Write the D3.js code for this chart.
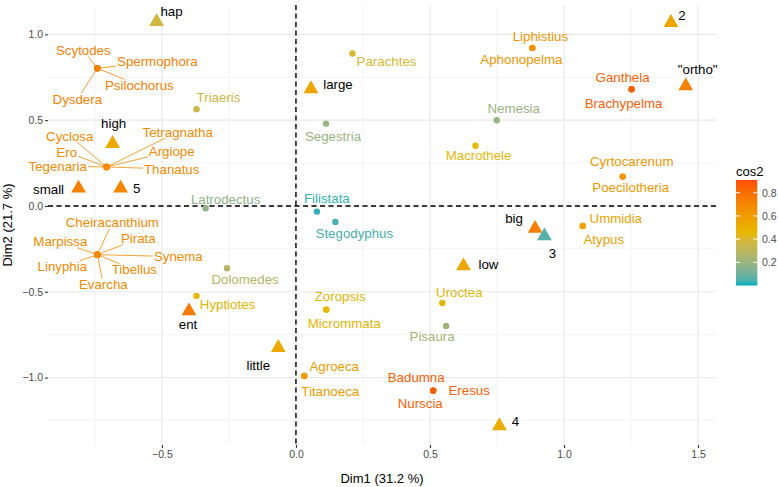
<!DOCTYPE html>
<html>
<head>
<meta charset="utf-8">
<script src="https://cdn.jsdelivr.net/npm/d3@7"></script>
<style>
  body { margin: 0; background: #fff; }
  svg { display: block; font-family: "Liberation Sans", Arial, Helvetica, sans-serif; }
</style>
</head>
<body>
<svg id="chart" width="778" height="487"></svg>
<script>
// ---- Data: variables (genera) ----
const varNames = ["Scytodes","Spermophora","Psilochorus","Dysdera",
  "Cyclosa","Tetragnatha","Ero","Argiope","Tegenaria","Thanatus",
  "Cheiracanthium","Pirata","Marpissa","Synema","Linyphia","Tibellus","Evarcha",
  "Triaeris","Latrodectus","Dolomedes","Hyptiotes","Parachtes","Segestria","Macrothele",
  "Liphistius","Aphonopelma","Ganthela","Brachypelma","Nemesia","Cyrtocarenum","Poecilotheria",
  "Filistata","Stegodyphus","Zoropsis","Micrommata","Uroctea","Pisaura","Ummidia","Atypus",
  "Agroeca","Titanoeca","Badumna","Eresus","Nurscia"];
const varDim1 = [-0.741,-0.741,-0.741,-0.741,
  -0.706,-0.706,-0.706,-0.706,-0.706,-0.706,
  -0.741,-0.741,-0.741,-0.741,-0.741,-0.741,-0.741,
  -0.371,-0.337,-0.257,-0.371,0.211,0.112,0.670,
  0.882,0.882,1.252,1.252,0.749,1.219,1.219,
  0.078,0.147,0.113,0.113,0.546,0.560,1.070,1.070,
  0.031,0.031,0.512,0.512,0.512];
const varDim2 = [0.802,0.802,0.802,0.802,
  0.227,0.227,0.227,0.227,0.227,0.227,
  -0.284,-0.284,-0.284,-0.284,-0.284,-0.284,-0.284,
  0.564,-0.013,-0.363,-0.524,0.888,0.480,0.351,
  0.921,0.921,0.680,0.680,0.499,0.171,0.171,
  -0.033,-0.093,-0.604,-0.604,-0.565,-0.699,-0.117,-0.117,
  -0.991,-0.991,-1.076,-1.076,-1.076];
const varCos2 = [0.72,0.72,0.72,0.72,
  0.68,0.68,0.68,0.68,0.68,0.68,
  0.68,0.68,0.68,0.68,0.68,0.68,0.68,
  0.36,0.17,0.28,0.47,0.40,0.19,0.45,
  0.63,0.63,0.85,0.85,0.19,0.62,0.62,
  0.02,0.04,0.47,0.47,0.45,0.22,0.57,0.57,
  0.60,0.60,0.86,0.86,0.86];

// ---- Data: supplementary categories (triangles) ----
const catNames = ["hap","high","small","5","ent","large","little","low","big","3","2","\"ortho\"","4"];
const catDim1 = [-0.520,-0.684,-0.811,-0.654,-0.399,0.056,-0.066,0.625,0.892,0.927,1.399,1.454,0.759];
const catDim2 = [1.080,0.369,0.109,0.109,-0.606,0.688,-0.820,-0.344,-0.126,-0.169,1.074,0.705,-1.276];
const catCos2 = [0.37,0.53,0.72,0.70,0.75,0.55,0.53,0.55,0.73,0.06,0.55,0.72,0.52];

// ---- Axis ticks ----
const xTicks = [-0.5, 0.0, 0.5, 1.0, 1.5];
const yTicks = [-1.0, -0.5, 0.0, 0.5, 1.0];
const xMinor = [-0.75, -0.25, 0.25, 0.75, 1.25];
const yMinor = [-1.25, -0.75, -0.25, 0.25, 0.75];
const legendTicks = [0.2, 0.4, 0.6, 0.8];

// ---- Label layout (repel offsets in px and whether a leader segment is drawn) ----
const varLabelOffset = [[-14,-18],[60,-7],[42,17],[-20,31],
  [-37,-31],[71,-35],[-40,-15],[65,-16],[-49,-1],[65,2],
  [15,-32],[41,-16],[-37,-13],[81,2],[-35,12],[37,15],[6,30],
  [22,-12],[20,-9],[18,11],[31,8],[34,8],[7,13],[3,9.5],
  [8,-12],[-11,11],[-9,-12],[-8,14],[17,-12],[9,-15],[8,11],
  [10,-13],[19,11],[14,-13],[18,14],[17,-11],[-14,10],[33,-8],[21,13],
  [30,-10],[26,15],[-17,-13],[36,0],[-13,13]];
const varLabelSegment = varNames.map((n, i) => i < 17);
const catLabelOffset = [[15,-9],[1,-19],[-30,2],[16,1],[-1,14],[27,-4],[-20,19],[25,-1],[-21,-9],[8,18],[11,-6],[12,-16],[16,-4]];

const svg = d3.select("#chart");
const panel = {left: 48, right: 716, top: 5, bottom: 445};

const x = d3.scaleLinear().domain([-0.925, 1.567]).range([panel.left, panel.right]);
const y = d3.scaleLinear().domain([-1.393, 1.171]).range([panel.bottom, panel.top]);

const colorDomain = [0, 0.91];
const color = d3.scaleLinear()
  .domain([colorDomain[0], (colorDomain[0]+colorDomain[1])/2, colorDomain[1]])
  .range(["#00AFBB", "#E7B800", "#FC4E07"])
  .interpolate(d3.interpolateLab);

// grid
const g = svg.append("g");
g.selectAll(".xminor").data(xMinor).join("line")
  .attr("x1", d => x(d)).attr("x2", d => x(d)).attr("y1", panel.top).attr("y2", panel.bottom)
  .attr("stroke", "#ededed").attr("stroke-width", 0.6);
g.selectAll(".yminor").data(yMinor).join("line")
  .attr("y1", d => y(d)).attr("y2", d => y(d)).attr("x1", panel.left).attr("x2", panel.right)
  .attr("stroke", "#ededed").attr("stroke-width", 0.6);
g.selectAll(".xmajor").data(xTicks).join("line")
  .attr("x1", d => x(d)).attr("x2", d => x(d)).attr("y1", panel.top).attr("y2", panel.bottom)
  .attr("stroke", "#e8e8e8").attr("stroke-width", 1.1);
g.selectAll(".ymajor").data(yTicks).join("line")
  .attr("y1", d => y(d)).attr("y2", d => y(d)).attr("x1", panel.left).attr("x2", panel.right)
  .attr("stroke", "#e8e8e8").attr("stroke-width", 1.1);

// axes
const fmt = d3.format(".1f");
const yAxis = svg.append("g").attr("transform", `translate(${panel.left},0)`)
  .call(d3.axisLeft(y).tickValues(yTicks).tickFormat(fmt).tickSize(3).tickPadding(2));
const xAxis = svg.append("g").attr("transform", `translate(0,${panel.bottom})`)
  .call(d3.axisBottom(x).tickValues(xTicks).tickFormat(fmt).tickSize(3).tickPadding(3));
[xAxis, yAxis].forEach(a => {
  a.select(".domain").remove();
  a.selectAll(".tick line").attr("stroke", "#333").attr("stroke-width", 1.1);
  a.selectAll(".tick text").attr("fill", "#4d4d4d").attr("font-size", 10.5)
    .attr("font-family", "Liberation Sans, Arial, sans-serif");
});

// dashed zero lines
svg.append("line").attr("x1", x(0)).attr("x2", x(0)).attr("y1", panel.top).attr("y2", panel.bottom)
  .attr("stroke", "#000").attr("stroke-width", 1.4).attr("stroke-dasharray", "5,3.5");
svg.append("line").attr("y1", y(0)).attr("y2", y(0)).attr("x1", panel.left).attr("x2", panel.right)
  .attr("stroke", "#000").attr("stroke-width", 1.4).attr("stroke-dasharray", "5,3.5");

// axis titles
svg.append("text").attr("x", (panel.left+panel.right)/2).attr("y", 483)
  .attr("text-anchor", "middle").attr("font-size", 13).attr("fill", "#000").text("Dim1 (31.2 %)");
svg.append("text").attr("transform", `translate(12,${(panel.top+panel.bottom)/2}) rotate(-90)`)
  .attr("text-anchor", "middle").attr("font-size", 13).attr("fill", "#000").text("Dim2 (21.7 %)");

// build label records
const vars = varNames.map((n,i) => ({name: n, px: x(varDim1[i]), py: y(varDim2[i]), c: color(varCos2[i]),
  off: varLabelOffset[i], seg: varLabelSegment[i], labelColor: color(varCos2[i])}));
const cats = catNames.map((n,i) => ({name: n, px: x(catDim1[i]), py: y(catDim2[i]), c: color(catCos2[i]),
  off: catLabelOffset[i], seg: false, labelColor: "#000"}));

const segG = svg.append("g");
const labG = svg.append("g");
const ptG = svg.append("g");

const labelSize = 13.3;
function drawLabels(arr) {
  arr.forEach(d => {
    const cx = d.px + d.off[0], cy = d.py + d.off[1];
    const t = labG.append("text").attr("x", cx).attr("y", cy).attr("dy", "0.36em")
      .attr("text-anchor", "middle").attr("font-size", labelSize).attr("fill", d.labelColor).text(d.name);
    if (!d.seg) return;
    const w = t.node().getComputedTextLength();
    const h = 12;
    const bx0 = cx - w/2 - 1, bx1 = cx + w/2 + 1, by0 = cy - h/2, by1 = cy + h/2;
    const dx = cx - d.px, dy = cy - d.py;
    let tmin = 1;
    if (dx !== 0) {
      [bx0, bx1].forEach(b => { const tt = (b - d.px)/dx; const yy = d.py + tt*dy; if (tt > 0 && tt < tmin && yy >= by0 && yy <= by1) tmin = tt; });
    }
    if (dy !== 0) {
      [by0, by1].forEach(b => { const tt = (b - d.py)/dy; const xx = d.px + tt*dx; if (tt > 0 && tt < tmin && xx >= bx0 && xx <= bx1) tmin = tt; });
    }
    segG.append("line").attr("x1", d.px).attr("y1", d.py)
      .attr("x2", d.px + tmin*dx).attr("y2", d.py + tmin*dy)
      .attr("stroke", d.c).attr("stroke-width", 0.8);
  });
}
drawLabels(vars);
drawLabels(cats);

ptG.selectAll("circle").data(vars).join("circle")
  .attr("cx", d => d.px).attr("cy", d => d.py).attr("r", 3.2).attr("fill", d => d.c);
const tri = d3.symbol().type(d3.symbolTriangle).size(95);
ptG.selectAll("path").data(cats).join("path")
  .attr("transform", d => `translate(${d.px},${d.py + 1})`).attr("d", tri).attr("fill", d => d.c);

// legend
const legY = d3.scaleLinear().domain(colorDomain).range([285.5, 180]);
const defs = svg.append("defs");
const grad = defs.append("linearGradient").attr("id", "cgrad").attr("x1", 0).attr("x2", 0).attr("y1", 1).attr("y2", 0);
d3.range(0, 1.0001, 0.05).forEach(t => {
  grad.append("stop").attr("offset", t).attr("stop-color", color(colorDomain[0] + t*(colorDomain[1]-colorDomain[0])));
});
const leg = svg.append("g");
leg.append("text").attr("x", 736).attr("y", 176).attr("font-size", 13).attr("fill", "#000").text("cos2");
leg.append("rect").attr("x", 736).attr("y", 180).attr("width", 21.3).attr("height", 105.5).attr("fill", "url(#cgrad)");
legendTicks.forEach(v => {
  leg.append("line").attr("x1", 736).attr("x2", 740).attr("y1", legY(v)).attr("y2", legY(v)).attr("stroke", "#fff").attr("stroke-width", 1);
  leg.append("line").attr("x1", 753.3).attr("x2", 757.3).attr("y1", legY(v)).attr("y2", legY(v)).attr("stroke", "#fff").attr("stroke-width", 1);
  leg.append("text").attr("x", 762).attr("y", legY(v)).attr("dy", "0.36em").attr("font-size", 10.5).attr("fill", "#4d4d4d").text(fmt(v));
});
</script>
</body>
</html>
